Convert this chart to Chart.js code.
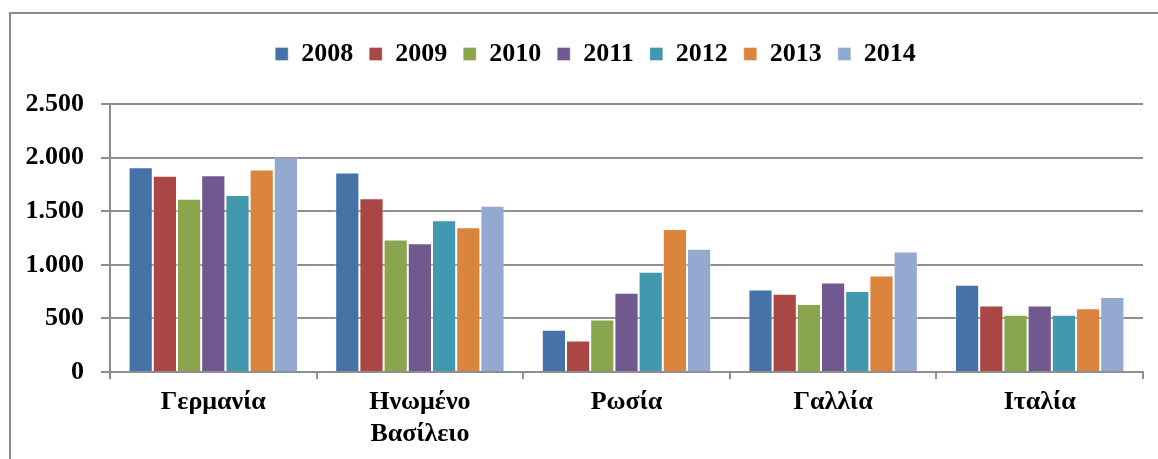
<!DOCTYPE html>
<html>
<head>
<meta charset="utf-8">
<script src="https://cdn.jsdelivr.net/npm/chart.js@4.4.1/dist/chart.umd.min.js"></script>
<style>
    html, body { margin: 0; padding: 0; background: #fff; }
    #wrap { position: relative; width: 1158px; height: 459px; overflow: hidden; }
    #frame {
        position: absolute; left: 9px; top: 12px; width: 1200px; height: 500px;
        border-left: 2px solid #8a8a8a; border-top: 2px solid #8a8a8a;
    }
    #chart { position: absolute; left: 0; top: 0; }
</style>
</head>
<body>
<div id="wrap">
    <div id="frame"></div>
    <canvas id="chart" width="1158" height="459"></canvas>
</div>
<script>
/* ---- data ---- */
const countries = ['Γερμανία', ['Ηνωμένο', 'Βασίλειο'], 'Ρωσία', 'Γαλλία', 'Ιταλία'];
const years = ['2008', '2009', '2010', '2011', '2012', '2013', '2014'];

const y2008 = [1910, 1860, 395, 770, 815];
const y2009 = [1830, 1620, 295, 730, 620];
const y2010 = [1615, 1235, 490, 635, 535];
const y2011 = [1835, 1200, 740, 835, 620];
const y2012 = [1650, 1415, 935, 755, 535];
const y2013 = [1890, 1350, 1335, 900, 595];
const y2014 = [2000, 1550, 1150, 1125, 700];

const seriesColors = ['#4572A7', '#AA4643', '#89A54E', '#71588F', '#4198AF', '#DB843D', '#93A9CF'];

const yTicks = [0, 500, 1000, 1500, 2000, 2500];

/* ---- chart ---- */
const allSeries = [y2008, y2009, y2010, y2011, y2012, y2013, y2014];
const FONT = "'Liberation Serif', 'Times New Roman', serif";

const datasets = years.map((yr, i) => ({
    label: yr,
    data: allSeries[i],
    backgroundColor: seriesColors[i],
    borderColor: 'rgba(255,255,255,0.35)',
    borderWidth: 1,
    categoryPercentage: 0.82,
    barPercentage: 1.0
}));

const fmt = v => String(v).replace(/\B(?=(\d{3})+(?!\d))/g, '.');

// extra room under the legend + nudge it right, like the excel layout
const legendGap = {
    id: 'legendGap',
    beforeInit(chart) {
        const lg = chart.legend;
        const fit = lg.fit;
        lg.fit = function () {
            fit.call(this);
            this.height += 27;
        };
        const draw = lg.draw;
        lg.draw = function () {
            const ctx = this.ctx;
            ctx.save();
            ctx.translate(24, 0);
            draw.call(this);
            ctx.restore();
        };
    }
};

new Chart(document.getElementById('chart'), {
    type: 'bar',
    data: { labels: countries, datasets: datasets },
    plugins: [legendGap],
    options: {
        responsive: false,
        animation: false,
        layout: { padding: { top: 25, right: 15, left: 0, bottom: 0 } },
        plugins: {
            legend: {
                position: 'top',
                labels: {
                    boxWidth: 13,
                    boxHeight: 13,
                    padding: 16,
                    color: '#000',
                    font: { family: FONT, size: 26, weight: 'bold' }
                }
            },
            tooltip: { enabled: false }
        },
        scales: {
            x: {
                afterFit: s => { s.height = 87; },
                grid: { drawOnChartArea: false, drawTicks: true, tickLength: 7, color: '#8e8e8e', lineWidth: 2, offset: true },
                border: { color: '#8e8e8e', width: 2 },
                ticks: {
                    color: '#000',
                    padding: 7,
                    maxRotation: 0,
                    font: { family: FONT, size: 26, weight: 'bold', lineHeight: 1.25 }
                }
            },
            y: {
                min: 0,
                max: 2500,
                afterFit: s => { s.width = 110; },
                afterBuildTicks: s => { s.ticks = yTicks.map(v => ({ value: v })); },
                grid: { color: '#8e8e8e', lineWidth: 2, tickLength: 9 },
                border: { color: '#8e8e8e', width: 2 },
                ticks: {
                    color: '#000',
                    padding: 17,
                    font: { family: FONT, size: 26, weight: 'bold' },
                    callback: v => fmt(v)
                }
            }
        }
    }
});
</script>
</body>
</html>
